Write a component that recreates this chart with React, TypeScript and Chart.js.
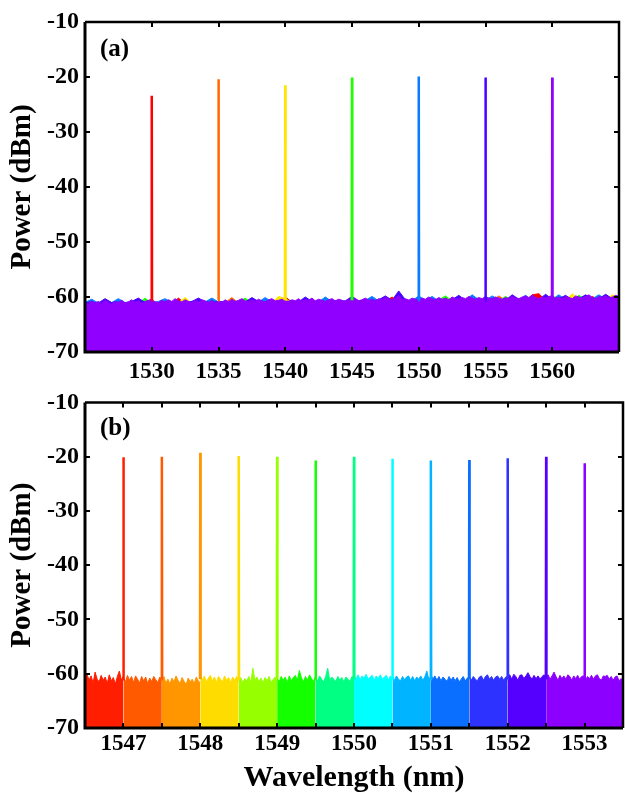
import React, { useEffect, useRef } from 'react';
import { Chart, registerables } from 'chart.js';
Chart.register(...registerables);

const FONT = '"Liberation Serif", "Times New Roman", serif';

// ---------- Panel (a) ----------
const topRange = [1525, 1565];
const topTickLabels = [1530, 1535, 1540, 1545, 1550, 1555, 1560];
const topPeakWl = [1530, 1535, 1540, 1545, 1550, 1555, 1560];
const topPeakDbm = [-23.4, -20.4, -21.5, -20.1, -19.9, -20.1, -20.1];
const topColors = ['#ff0000', '#ff6a00', '#ffe600', '#1eff00', '#0a7cff', '#4b00ff', '#9000ff'];

// noise traces sampled every 0.5 nm (1525 ... 1565)
const topNoiseRed = [
  -61.2, -61.3, -61.1, -61.4, -61.2, -61.3, -61.1, -61.2, -61.4, -61.1,
  -61.2, -61.0, -61.3, -61.1, -60.2, -61.2, -61.0, -61.3, -61.1, -61.2,
  -61.0, -61.2, -61.1, -60.9, -61.2, -61.0, -61.1, -60.9, -61.2, -61.0,
  -60.0, -60.9, -61.1, -60.8, -61.0, -60.9, -61.1, -60.8, -61.0, -60.9,
  -60.8, -61.0, -60.9, -60.7, -60.9, -60.8, -60.0, -60.9, -60.7, -60.8,
  -60.6, -60.8, -60.7, -60.9, -60.6, -60.8, -60.7, -60.5, -60.8, -60.6,
  -60.7, -60.5, -60.7, -60.6, -60.8, -60.5, -60.6, -59.6, -59.4, -60.6,
  -60.5, -60.7, -60.4, -60.6, -60.5, -60.7, -59.9, -60.5, -60.6, -60.4,
  -60.5,
];
const topNoiseOrange = [
  -61.3, -61.1, -61.2, -61.4, -61.1, -61.3, -61.2, -61.0, -61.3, -61.1,
  -61.3, -61.1, -61.2, -61.0, -61.3, -61.1, -61.2, -61.0, -61.1, -61.3,
  -61.1, -61.0, -60.1, -61.1, -60.9, -61.2, -61.0, -61.1, -60.9, -61.0,
  -61.1, -60.9, -61.0, -60.8, -61.1, -60.9, -61.0, -60.8, -60.9, -61.0,
  -60.2, -60.9, -60.8, -60.9, -60.7, -60.9, -60.8, -60.6, -60.9, -60.7,
  -60.8, -60.6, -60.7, -60.9, -60.6, -60.7, -60.5, -60.8, -60.6, -60.7,
  -60.5, -60.7, -59.8, -60.6, -60.7, -60.5, -60.6, -59.7, -60.6, -60.5,
  -60.6, -60.4, -60.6, -60.5, -60.7, -60.4, -60.6, -60.5, -60.3, -60.6,
  -60.5,
];
const topNoiseYellow = [
  -61.2, -61.0, -61.3, -60.4, -61.2, -61.1, -61.3, -61.0, -61.2, -61.1,
  -61.2, -61.0, -61.3, -61.1, -61.0, -60.1, -61.2, -61.0, -61.1, -61.2,
  -61.0, -61.1, -60.9, -61.2, -61.0, -61.1, -60.9, -61.1, -61.0, -59.9,
  -60.3, -61.0, -60.9, -61.1, -60.8, -61.0, -60.9, -60.8, -61.0, -60.9,
  -60.9, -60.7, -60.9, -60.8, -60.6, -60.9, -60.7, -60.8, -60.6, -60.8,
  -60.7, -60.6, -60.8, -60.5, -60.7, -60.6, -60.8, -60.5, -60.7, -60.6,
  -60.6, -60.5, -60.7, -60.6, -60.4, -60.6, -60.5, -60.7, -60.4, -60.6,
  -59.7, -60.5, -60.6, -59.4, -60.5, -60.4, -60.6, -60.3, -60.5, -59.6,
  -60.2,
];
const topNoiseGreen = [
  -61.3, -61.1, -61.2, -61.0, -61.3, -61.1, -61.2, -61.0, -61.2, -60.2,
  -61.2, -61.0, -61.3, -61.1, -61.2, -61.0, -61.1, -61.3, -61.0, -61.2,
  -61.1, -61.0, -61.2, -60.9, -60.2, -61.1, -61.0, -60.9, -61.1, -61.0,
  -60.9, -61.1, -60.8, -61.0, -60.9, -61.0, -60.8, -60.9, -61.0, -60.8,
  -60.9, -60.7, -60.8, -60.9, -60.7, -60.8, -60.6, -60.8, -60.7, -60.9,
  -60.6, -60.8, -60.7, -60.5, -59.8, -60.7, -60.6, -60.8, -60.5, -60.7,
  -60.6, -60.5, -60.7, -59.9, -60.6, -60.5, -60.7, -60.4, -60.6, -60.5,
  -60.6, -60.4, -60.5, -60.6, -59.7, -60.5, -60.4, -60.6, -60.3, -60.5,
  -60.4,
];
const topNoiseBlue = [
  -61.0, -60.4, -61.1, -60.9, -61.0, -60.3, -61.0, -60.8, -61.1, -60.9,
  -61.0, -60.8, -60.3, -61.0, -60.9, -61.1, -60.8, -61.0, -60.9, -60.2,
  -60.9, -61.0, -60.8, -60.9, -61.0, -60.8, -60.9, -60.1, -60.9, -60.8,
  -60.9, -60.7, -60.9, -60.8, -60.7, -60.9, -60.0, -60.8, -60.7, -60.9,
  -60.7, -60.8, -60.6, -59.9, -60.7, -60.8, -60.6, -60.7, -60.5, -60.7,
  -59.8, -60.6, -59.9, -60.7, -60.5, -60.6, -60.4, -60.6, -59.6, -60.5,
  -60.6, -59.8, -60.5, -60.4, -60.6, -60.5, -59.7, -60.5, -60.4, -60.6,
  -60.4, -59.6, -60.5, -60.3, -60.5, -60.4, -60.3, -59.6, -60.4, -60.3,
  -60.4,
];
const topNoiseIndigo = [
  -61.0, -60.9, -61.1, -60.3, -61.0, -60.9, -61.1, -60.8, -60.2, -61.0,
  -60.9, -61.1, -60.8, -61.0, -60.9, -61.0, -60.8, -60.2, -60.9, -61.0,
  -60.8, -60.9, -61.0, -60.8, -60.9, -60.1, -60.8, -60.9, -60.7, -60.9,
  -60.8, -60.7, -60.9, -60.0, -60.8, -60.7, -60.9, -60.6, -60.8, -60.7,
  -59.9, -60.7, -60.6, -60.8, -60.5, -59.8, -60.6, -58.9, -60.5, -60.7,
  -60.6, -60.5, -60.7, -60.4, -60.6, -60.5, -59.7, -60.6, -60.4, -60.5,
  -60.6, -60.4, -60.5, -60.6, -59.6, -60.4, -60.5, -60.3, -60.5, -59.5,
  -60.4, -60.3, -59.7, -60.5, -60.3, -59.6, -60.4, -60.3, -59.5, -60.3,
  -60.2,
];
// purple trace sampled every 0.25 nm (1525 ... 1565)
const topNoisePurple = [
  -60.9, -61.3, -60.7, -61.1, -60.8, -61.2, -60.6, -61.0, -61.3, -60.8,
  -61.0, -60.6, -61.1, -60.9, -60.5, -61.0, -60.7, -61.2, -60.8, -60.6,
  -60.4, -60.9, -61.0, -60.6, -60.9, -60.5, -60.8, -60.3, -60.7, -60.9,
  -60.5, -60.8, -61.0, -60.6, -60.9, -60.5, -60.7, -61.0, -60.6, -61.1,
  -60.7, -61.0, -60.5, -60.9, -60.4, -60.8, -60.6, -60.3, -60.7, -60.9,
  -60.5, -60.8, -60.4, -60.7, -60.9, -60.5, -60.3, -60.7, -60.6, -60.4,
  -60.7, -60.9, -60.5, -60.7, -60.3, -60.8, -60.5, -60.6, -60.2, -60.7,
  -60.4, -60.6, -60.8, -60.5, -60.3, -60.7, -60.4, -60.6, -60.8, -60.5,
  -60.6, -60.3, -60.7, -60.5, -60.2, -60.6, -60.4, -60.7, -60.3, -60.5,
  -60.1, -60.4, -60.6, -60.2, -59.7, -60.5, -60.3, -60.6, -60.2, -60.4,
  -60.5, -60.2, -60.4, -60.0, -60.3, -60.5, -60.1, -60.4, -60.2, -60.5,
  -60.0, -60.3, -60.4, -60.1, -60.3, -59.9, -60.2, -60.4, -60.1, -60.3,
  -59.9, -60.2, -60.3, -60.0, -60.2, -60.4, -60.1, -60.3, -59.9, -60.2,
  -60.3, -60.0, -59.8, -60.2, -59.6, -60.1, -60.3, -60.0, -60.2, -59.9,
  -59.8, -60.2, -60.0, -60.3, -59.9, -60.1, -60.3, -59.8, -60.0, -60.2,
  -59.9, -59.6, -60.1, -60.3, -59.9, -60.1, -59.8, -60.2, -60.0, -59.7,
  -59.9,
];
const topNoise = [topNoiseRed, topNoiseOrange, topNoiseYellow, topNoiseGreen, topNoiseBlue, topNoiseIndigo, topNoisePurple];

// ---------- Panel (b) ----------
const botRange = [1546.5, 1553.5];
const botPeakWl = [1547, 1547.5, 1548, 1548.5, 1549, 1549.5, 1550, 1550.5, 1551, 1551.5, 1552, 1552.5, 1553];
const botPeakDbm = [-20.1, -20.0, -19.3, -19.9, -20.0, -20.7, -20.0, -20.4, -20.7, -20.6, -20.3, -20.0, -21.2];
const botSegEdges = [1546.5, 1547, 1547.5, 1548, 1548.5, 1549, 1549.5, 1550, 1550.5, 1551, 1551.5, 1552, 1552.5, 1553.5];
const botColors = ['#ff1e00', '#ff5a00', '#ff9600', '#ffdc00', '#96ff00', '#14ff00', '#00ff82', '#00ffff', '#00b4ff', '#0a6eff', '#2d32ff', '#5500ff', '#8c00ff'];

const botNoise = [
  [-61.6, -60.1, -61.2, -60.4, -61.7, -59.7, -61.0, -61.5, -60.3, -61.2, -60.6, -61.8, -60.2, -61.3, -60.7, -61.9, -60.5, -59.5, -61.2, -60.4],
  [-60.7, -61.5, -60.3, -61.2, -60.5, -61.6, -60.4, -61.0, -61.7, -60.5, -61.3, -60.6, -61.8, -60.8, -61.4, -60.5, -61.1, -61.6, -60.6, -61.3],
  [-61.4, -60.5, -61.7, -61.0, -61.9, -60.8, -61.5, -60.4, -61.2, -61.8, -60.7, -61.4, -62.0, -60.8, -61.5, -61.0, -61.8, -60.6, -61.3, -61.7],
  [-60.5, -61.2, -60.4, -61.5, -60.8, -60.3, -61.3, -60.6, -61.6, -60.5, -61.0, -61.5, -60.4, -61.2, -60.7, -61.6, -60.6, -61.2, -60.5, -61.3],
  [-61.4, -60.7, -61.7, -60.9, -61.3, -60.5, -61.6, -59.0, -61.2, -60.6, -61.5, -60.8, -61.7, -60.7, -61.3, -60.5, -61.6, -61.1, -60.6, -61.4],
  [-60.8, -61.5, -60.5, -61.2, -60.6, -61.6, -60.4, -61.3, -60.7, -60.3, -61.2, -59.4, -60.7, -61.5, -60.5, -61.2, -60.2, -60.9, -61.4, -60.5],
  [-60.6, -61.4, -60.4, -61.0, -61.5, -60.5, -59.0, -61.2, -60.6, -61.0, -61.4, -60.5, -61.2, -60.7, -61.5, -60.6, -61.0, -61.4, -60.5, -60.8],
  [-60.3, -61.0, -60.2, -61.1, -60.4, -60.8, -60.1, -61.0, -60.6, -60.3, -61.2, -60.4, -60.9, -60.2, -61.0, -60.6, -60.3, -61.2, -60.4, -60.8],
  [-60.5, -61.2, -60.4, -61.0, -61.3, -60.5, -61.1, -60.6, -60.4, -61.2, -60.5, -61.3, -60.6, -61.0, -60.4, -61.2, -60.6, -59.5, -61.0, -60.5],
  [-60.1, -61.0, -60.4, -61.2, -60.5, -61.3, -60.6, -61.0, -61.4, -60.5, -61.2, -60.6, -61.3, -60.7, -61.5, -61.0, -60.5, -61.3, -60.8, -60.6],
  [-60.4, -61.2, -60.5, -61.0, -61.3, -60.6, -60.4, -61.2, -60.5, -60.2, -61.0, -60.5, -61.2, -60.6, -60.4, -61.0, -60.5, -61.2, -60.6, -60.5],
  [-60.5, -60.2, -61.0, -60.1, -60.5, -61.2, -60.3, -60.2, -60.9, -60.4, -59.8, -60.5, -61.0, -60.3, -60.9, -60.4, -61.0, -60.5, -60.2, -60.9],
  [-60.6, -60.2, -61.0, -60.4, -59.7, -60.5, -61.2, -60.3, -60.9, -60.4, -61.0, -60.2, -60.5, -61.2, -60.4, -60.9, -60.3, -61.0, -60.5, -60.4,
   -61.2, -60.5, -60.9, -60.3, -61.0, -60.4, -60.2, -60.9, -61.2, -60.4, -60.5, -60.3, -61.0, -60.5, -61.2, -60.6, -60.4, -61.3, -60.9, -61.4],
];

const yTicks = [-70, -60, -50, -40, -30, -20, -10];

// place a sampled trace evenly over [start, end]
function trace(values: number[], start: number, end: number) {
  const n = values.length;
  return values.map((v, i) => ({ x: start + ((end - start) * i) / (n - 1), y: v }));
}
function spike(wl: number, peak: number, base: number, half: number) {
  return [
    { x: wl - half, y: base },
    { x: wl, y: peak },
    { x: wl + half, y: base },
  ];
}

function framePlugin(label: string, dy: number) {
  return {
    id: 'frame_' + label.replace(/[()]/g, ''),
    afterDraw(chart: any) {
      const { ctx, chartArea: a, scales } = chart;
      const xs = scales.x;
      const ys = scales.y;
      ctx.save();
      ctx.strokeStyle = '#000';
      ctx.lineWidth = 2;
      ctx.beginPath();
      xs.ticks.forEach((t: any) => {
        const px = Math.round(xs.getPixelForValue(t.value));
        if (px <= a.left + 2 || px >= a.right - 2) return;
        ctx.moveTo(px, a.bottom);
        ctx.lineTo(px, a.bottom - 5);
        ctx.moveTo(px, a.top);
        ctx.lineTo(px, a.top + 5);
      });
      ys.ticks.forEach((t: any) => {
        const py = Math.round(ys.getPixelForValue(t.value));
        if (py <= a.top + 2 || py >= a.bottom - 2) return;
        ctx.moveTo(a.left, py);
        ctx.lineTo(a.left + 5, py);
        ctx.moveTo(a.right, py);
        ctx.lineTo(a.right - 5, py);
      });
      ctx.stroke();
      ctx.lineWidth = 3;
      ctx.beginPath();
      ctx.moveTo(a.left, a.top);
      ctx.lineTo(a.left, a.bottom);
      ctx.lineTo(a.right, a.bottom);
      ctx.stroke();
      ctx.lineWidth = 2.5;
      ctx.beginPath();
      ctx.moveTo(a.left, a.top);
      ctx.lineTo(a.right, a.top);
      ctx.lineTo(a.right, a.bottom);
      ctx.stroke();
      ctx.fillStyle = '#000';
      ctx.font = 'bold 25px ' + FONT;
      ctx.textBaseline = 'middle';
      ctx.textAlign = 'left';
      ctx.fillText(label, a.left + 15, a.top + dy);
      ctx.restore();
    },
  };
}

function yScale() {
  return {
    type: 'linear',
    min: -70,
    max: -10,
    afterBuildTicks: (s: any) => { s.ticks = yTicks.map((v) => ({ value: v })); },
    ticks: {
      color: '#000',
      font: { family: FONT, size: 24, weight: 'bold' },
      padding: 6,
      callback: (v: any) => String(v),
    },
    grid: { display: false, drawTicks: false },
    border: { display: false },
    title: {
      display: true,
      text: 'Power (dBm)',
      color: '#000',
      font: { family: FONT, size: 29, weight: 'bold' },
      padding: { top: 5, bottom: 0 },
    },
    afterFit: (s: any) => { s.width = 85; },
  };
}

export default function App() {
  const topRef = useRef<HTMLCanvasElement>(null);
  const botRef = useRef<HTMLCanvasElement>(null);

  useEffect(() => {
    document.body.style.margin = '0';
    let cancelled = false;
    let top: Chart | null = null;
    let bot: Chart | null = null;

    const build = () => {
      if (cancelled) return;
      const topDatasets: any[] = [];
      topNoise.forEach((vals, i) => {
        topDatasets.push({
          data: trace(vals, topRange[0], topRange[1]),
          borderColor: topColors[i],
          backgroundColor: topColors[i],
          borderWidth: 1,
          fill: 'start',
          pointRadius: 0,
          order: 10 - i,
        });
      });
      topPeakWl.forEach((wl, i) => {
        topDatasets.push({
          data: spike(wl, topPeakDbm[i], -60.6, 0.02),
          borderColor: topColors[i],
          borderWidth: 2.5,
          fill: false,
          pointRadius: 0,
          order: 0,
        });
      });

      top = new Chart(topRef.current as HTMLCanvasElement, {
        type: 'line',
        data: { datasets: topDatasets },
        options: {
          animation: false,
          responsive: false,
          events: [],
          layout: { padding: { top: 22, right: 1, left: 0, bottom: 0 } },
          plugins: { legend: { display: false }, tooltip: { enabled: false } },
          scales: {
            x: {
              type: 'linear',
              min: topRange[0],
              max: topRange[1],
              ticks: {
                stepSize: 5,
                autoSkip: false,
                maxRotation: 0,
                color: '#000',
                font: { family: FONT, size: 23, weight: 'bold' },
                padding: 6,
                callback: (v: any) => (topTickLabels.includes(v) ? String(v) : ''),
              },
              grid: { display: false, drawTicks: false },
              border: { display: false },
              afterFit: (s: any) => { s.height = 30; },
            },
            y: yScale(),
          },
        } as any,
        plugins: [framePlugin('(a)', 28)],
      });

      const botDatasets: any[] = [];
      botNoise.forEach((vals, i) => {
        botDatasets.push({
          data: trace(vals, botSegEdges[i], botSegEdges[i + 1]),
          borderColor: botColors[i],
          backgroundColor: botColors[i],
          borderWidth: 1,
          fill: 'start',
          pointRadius: 0,
          order: 20 - i,
        });
      });
      botPeakWl.forEach((wl, i) => {
        botDatasets.push({
          data: spike(wl, botPeakDbm[i], -61, 0.004),
          borderColor: botColors[i],
          borderWidth: 2.5,
          fill: false,
          pointRadius: 0,
          order: 0,
        });
      });

      bot = new Chart(botRef.current as HTMLCanvasElement, {
        type: 'line',
        data: { datasets: botDatasets },
        options: {
          animation: false,
          responsive: false,
          events: [],
          layout: { padding: { top: 14, right: 1, left: 0, bottom: 0 } },
          plugins: { legend: { display: false }, tooltip: { enabled: false } },
          scales: {
            x: {
              type: 'linear',
              min: botRange[0],
              max: botRange[1],
              ticks: {
                stepSize: 0.5,
                autoSkip: false,
                maxRotation: 0,
                color: '#000',
                font: { family: FONT, size: 23, weight: 'bold' },
                padding: 2,
                callback: (v: any) => (Number.isInteger(v) ? String(v) : ''),
              },
              grid: { display: false, drawTicks: false },
              border: { display: false },
              title: {
                display: true,
                text: 'Wavelength (nm)',
                color: '#000',
                font: { family: FONT, size: 30, weight: 'bold', lineHeight: 1 },
                padding: { top: 0, bottom: 0 },
              },
              afterFit: (s: any) => { s.height = 65; },
            },
            y: yScale(),
          },
        } as any,
        plugins: [framePlugin('(b)', 26)],
      });
    };

    const fonts: any = (document as any).fonts;
    if (fonts && fonts.load) {
      Promise.all([
        fonts.load('bold 23px "Liberation Serif"'),
        fonts.load('bold 29px "Liberation Serif"'),
      ]).then(build, build);
    } else {
      build();
    }

    return () => {
      cancelled = true;
      if (top) top.destroy();
      if (bot) bot.destroy();
    };
  }, []);

  return (
    <div style={{ width: 625, height: 793, background: '#fff' }}>
      <canvas ref={topRef} width={625} height={382} style={{ display: 'block', width: 625, height: 382 }} />
      <canvas ref={botRef} width={625} height={411} style={{ display: 'block', width: 625, height: 411 }} />
    </div>
  );
}
